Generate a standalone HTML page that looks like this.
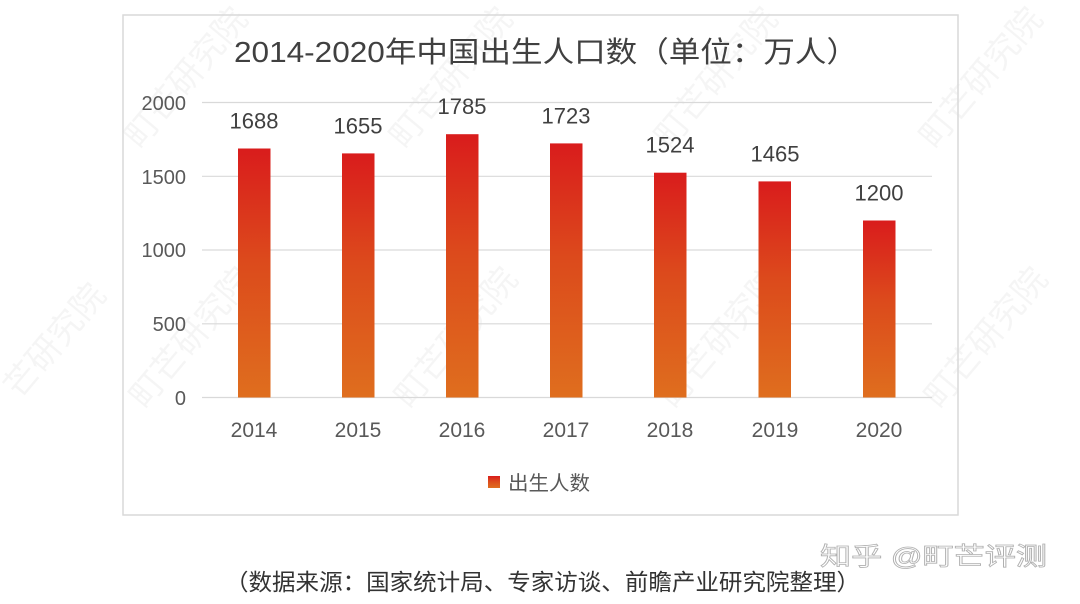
<!DOCTYPE html>
<html>
<head>
<meta charset="utf-8">
<style>
  html,body{margin:0;padding:0;background:#fff;width:1080px;height:604px;overflow:hidden;}
  svg{display:block;overflow:hidden;}
  text{font-family:"Liberation Sans","Noto Sans CJK SC",sans-serif;}
</style>
</head>
<body>
<svg width="1080" height="604" viewBox="0 0 1080 604" xmlns="http://www.w3.org/2000/svg">
  <defs>
    <linearGradient id="bg" x1="0" y1="0" x2="0" y2="1">
      <stop offset="0" stop-color="#d91c1c"/>
      <stop offset="0.45" stop-color="#dc4a1c"/>
      <stop offset="1" stop-color="#df6e1e"/>
    </linearGradient>
  </defs>
  <rect width="1080" height="604" fill="#fff"/>

  <!-- faint background watermarks -->
  <g fill="#000" fill-opacity="0.04" font-size="34">
    <text transform="translate(140,150) rotate(-50)">町芒研究院</text>
    <text transform="translate(405,150) rotate(-50)">町芒研究院</text>
    <text transform="translate(670,150) rotate(-50)">町芒研究院</text>
    <text transform="translate(935,150) rotate(-50)">町芒研究院</text>
    <text transform="translate(20,400) rotate(-50)">芒研究院</text>
    <text transform="translate(145,410) rotate(-50)">町芒研究院</text>
    <text transform="translate(410,410) rotate(-50)">町芒研究院</text>
    <text transform="translate(675,410) rotate(-50)">町芒研究院</text>
    <text transform="translate(940,410) rotate(-50)">町芒研究院</text>
  </g>

  <!-- chart frame -->
  <rect x="123" y="15" width="835" height="500" fill="none" stroke="#d9d9d9" stroke-width="1.5"/>

  <!-- title -->
  <text x="546" y="62" text-anchor="middle" font-size="29" fill="#404040" textLength="624" lengthAdjust="spacingAndGlyphs">2014-2020年中国出生人口数（单位：万人）</text>

  <!-- gridlines -->
  <g stroke="#d9d9d9" stroke-width="1.2">
    <line x1="202" y1="102.5" x2="932" y2="102.5"/>
    <line x1="202" y1="176.3" x2="932" y2="176.3"/>
    <line x1="202" y1="250" x2="932" y2="250"/>
    <line x1="202" y1="323.8" x2="932" y2="323.8"/>
    <line x1="202" y1="397.5" x2="932" y2="397.5"/>
  </g>

  <!-- y labels -->
  <g font-size="20" fill="#595959" text-anchor="end">
    <text x="186" y="110">2000</text>
    <text x="186" y="184">1500</text>
    <text x="186" y="257">1000</text>
    <text x="186" y="331">500</text>
    <text x="186" y="405">0</text>
  </g>

  <!-- bars -->
  <g fill="url(#bg)">
    <rect x="238" y="148.5" width="32.5" height="249"/>
    <rect x="342" y="153.4" width="32.5" height="244.1"/>
    <rect x="446" y="134.2" width="32.5" height="263.3"/>
    <rect x="550" y="143.4" width="32.5" height="254.1"/>
    <rect x="654" y="172.7" width="32.5" height="224.8"/>
    <rect x="758.5" y="181.4" width="32.5" height="216.1"/>
    <rect x="863" y="220.5" width="32.5" height="177"/>
  </g>

  <!-- value labels -->
  <g font-size="22" fill="#404040" text-anchor="middle">
    <text x="254" y="128.5">1688</text>
    <text x="358" y="133.4">1655</text>
    <text x="462" y="114.2">1785</text>
    <text x="566" y="123.4">1723</text>
    <text x="670" y="152.7">1524</text>
    <text x="775" y="161.4">1465</text>
    <text x="879" y="200.5">1200</text>
  </g>

  <!-- x labels -->
  <g font-size="21" fill="#595959" text-anchor="middle">
    <text x="254" y="437">2014</text>
    <text x="358" y="437">2015</text>
    <text x="462" y="437">2016</text>
    <text x="566" y="437">2017</text>
    <text x="670" y="437">2018</text>
    <text x="775" y="437">2019</text>
    <text x="879" y="437">2020</text>
  </g>

  <!-- legend -->
  <rect x="488" y="476" width="12" height="12" fill="url(#bg)"/>
  <text x="508" y="490" font-size="20" fill="#595959" textLength="82" lengthAdjust="spacingAndGlyphs">出生人数</text>

  <!-- source -->
  <text x="225" y="590" font-size="23" fill="#333" textLength="635" lengthAdjust="spacingAndGlyphs">（数据来源：国家统计局、专家访谈、前瞻产业研究院整理）</text>

  <!-- zhihu watermark -->
  <text x="820" y="565" font-size="25" fill="#ffffff" stroke="#b0b0b0" stroke-width="0.8" textLength="227" lengthAdjust="spacingAndGlyphs">知乎 @町芒评测</text>
</svg>
</body>
</html>
